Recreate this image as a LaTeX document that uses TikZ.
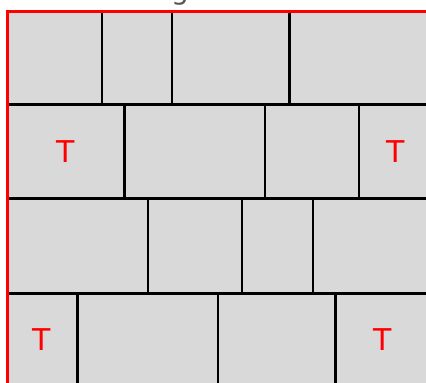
\documentclass[tikz,border=0pt]{standalone}
\usepackage{fontspec}
\setmainfont{DejaVu Sans}
\definecolor{tilegray}{RGB}{217,217,217}
\definecolor{titlegray}{RGB}{85,85,85}
\tikzset{
  tilefill/.style={fill=tilegray},
  joint/.style={draw=black, line width=2.1pt},
  edge/.style={draw=red, line width=3pt},
  tlabel/.style={text=red, font=\fontsize{30}{30}\selectfont, inner sep=0pt, anchor=center},
}
\begin{document}
\begin{tikzpicture}[x=1pt,y=-1pt]
\useasboundingbox (0,0) rectangle (426,383);
\begin{scope}
\clip (0,0) rectangle (426,383);
\fill[tilefill] (7,11) rectangle (440,400);
% horizontal joints
\draw[joint] (7,104.5) -- (440,104.5);
\draw[joint] (7,198.5) -- (440,198.5);
\draw[joint] (7,293.5) -- (440,293.5);
% row 1
\draw[joint] (102,11) -- (102,104.5);
\draw[joint] (172,11) -- (172,104.5);
\draw[joint] (289.5,11) -- (289.5,104.5);
% row 2
\draw[joint] (124.5,104.5) -- (124.5,198.5);
\draw[joint] (265,104.5) -- (265,198.5);
\draw[joint] (359,104.5) -- (359,198.5);
% row 3
\draw[joint] (148,198.5) -- (148,293.5);
\draw[joint] (242,198.5) -- (242,293.5);
\draw[joint] (313,198.5) -- (313,293.5);
% row 4
\draw[joint] (77.5,293.5) -- (77.5,400);
\draw[joint] (218,293.5) -- (218,400);
\draw[joint] (335.5,293.5) -- (335.5,400);
% red border
\draw[edge] (7,400) -- (7,11) -- (440,11);
% labels
\node[tlabel] (t1) at (66,152) {T};
\node[tlabel] (t2) at (396,152) {T};
\node[tlabel] (t3) at (42,340) {T};
\node[tlabel] (t4) at (383,340) {T};
% partially visible title
\node[text=titlegray, font=\fontsize{28}{28}\selectfont, inner sep=0pt, anchor=base] (title) at (180,-1) {g};
\end{scope}
\end{tikzpicture}
\end{document}
